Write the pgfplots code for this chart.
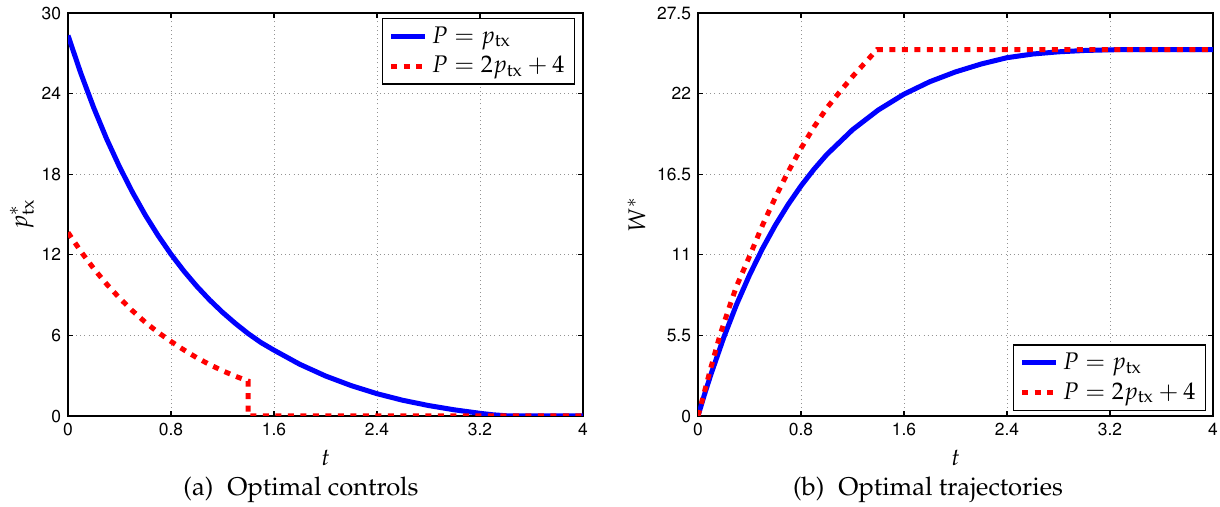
\documentclass[border=0pt]{standalone}
\usepackage[T1]{fontenc}
\usepackage{mathpazo}
\usepackage{pgfplots}
\usepackage{pgfplotstable}
\pgfplotsset{compat=1.18}

% optimal controls p_tx^*(t)
\pgfplotstableread{
t     p
0     28.33
0.1   25.50
0.2   22.94
0.3   20.63
0.4   18.55
0.5   16.67
0.6   14.96
0.7   13.43
0.8   12.04
0.9   10.79
1.0   9.66
1.1   8.64
1.2   7.72
1.3   6.89
1.4   6.13
1.5   5.46
1.6   4.90
1.8   3.85
2.0   2.98
2.2   2.26
2.4   1.66
2.6   1.17
2.8   0.78
3.0   0.46
3.2   0.20
3.3   0.09
3.4   0.02
3.45  0
4     0
}\ctrlA
\pgfplotstableread{
t     p
0     13.66
0.1   12.25
0.2   10.97
0.3   9.82
0.4   8.78
0.5   7.84
0.6   6.98
0.7   6.22
0.8   5.55
0.9   4.92
1.0   4.34
1.1   3.83
1.2   3.37
1.3   2.96
1.4   2.60
1.4   0
4     0
}\ctrlB

% optimal trajectories W^*(t)
\pgfplotstableread{
t     W
0     0
0.05  1.46
0.1   2.83
0.2   5.36
0.3   7.62
0.4   9.62
0.5   11.41
0.6   13.01
0.7   14.43
0.8   15.70
0.9   16.83
1.0   17.84
1.2   19.53
1.4   20.88
1.6   21.96
1.8   22.81
2.0   23.48
2.2   24.02
2.4   24.45
2.6   24.70
2.8   24.85
3.0   24.94
3.2   24.99
3.4   25
4     25
}\trajA
\pgfplotstableread{
t     W
0     0
0.05  1.65
0.1   3.30
0.17  5.50
0.25  7.62
0.3   8.87
0.405 11.00
0.5   13.00
0.6   14.90
0.69  16.50
0.8   18.26
0.9   19.71
1.0   21.01
1.09  22.00
1.2   23.16
1.3   24.13
1.39  25.00
4     25
}\trajB

\pgfplotsset{
  panel/.style={
    scale only axis,
    width=257.5pt, height=201.5pt,
    xmin=0, xmax=4,
    xtick={0,0.8,1.6,2.4,3.2,4},
    tick align=inside,
    xtick pos=both, ytick pos=both,
    major tick length=2.5pt,
    every tick/.style={black, line width=0.6pt},
    axis line style={black, line width=0.8pt},
    grid=major,
    major grid style={gray!85, line width=0.45pt, dash pattern=on 0.45pt off 1.6pt},
    /pgf/number format/assume math mode=true,
    tick label style={font=\fontsize{8.7}{10}\fontfamily{phv}\selectfont},
    label style={font=\fontsize{12}{14}\selectfont},
    xlabel={$t$},
    legend cell align=left,
    legend style={font=\fontsize{12}{14}\selectfont, draw=black, line width=0.6pt,
      inner xsep=3pt, inner ysep=2pt, row sep=1pt},
  },
  pA/.style={blue, line width=2.5pt, line join=round},
  pB/.style={red, line width=2.5pt, dash pattern=on 3pt off 3.25pt},
}

\begin{document}
\begin{tikzpicture}
\useasboundingbox (0pt,0pt) rectangle (610pt,253.5pt);

\begin{axis}[panel, at={(34pt,45.5pt)}, anchor=south west,
  ymin=0, ymax=30, ytick={0,6,12,18,24,30},
  ylabel={$p^*_{\mathrm{tx}}$}, ylabel shift=-3pt,
  legend style={at={(axis description cs:1,1)}, anchor=north east,
    xshift=-4pt, yshift=-2.5pt}]
  \addplot[pA] table[x=t, y=p] {\ctrlA};
  \addplot[pB] table[x=t, y=p] {\ctrlB};
  \legend{$P=p_{\mathrm{tx}}$, $P=2p_{\mathrm{tx}}+4$}
\end{axis}

\begin{axis}[panel, at={(349pt,45.5pt)}, anchor=south west,
  ymin=0, ymax=27.5, ytick={0,5.5,11,16.5,22,27.5},
  ylabel={$W^*$}, ylabel shift=-1pt,
  legend style={at={(axis description cs:1,0)}, anchor=south east,
    xshift=-3.5pt, yshift=2.5pt}]
  \addplot[pA] table[x=t, y=W] {\trajA};
  \addplot[pB] table[x=t, y=W] {\trajB};
  \legend{$P=p_{\mathrm{tx}}$, $P=2p_{\mathrm{tx}}+4$}
\end{axis}

\node[anchor=base, font=\fontsize{12.8}{15}\selectfont] at (150.5pt,5.5pt) {(a)\hspace{0.55em}Optimal controls};
\node[anchor=base, font=\fontsize{12.8}{15}\selectfont] at (464pt,5.5pt) {(b)\hspace{0.55em}Optimal trajectories};
\end{tikzpicture}
\end{document}
